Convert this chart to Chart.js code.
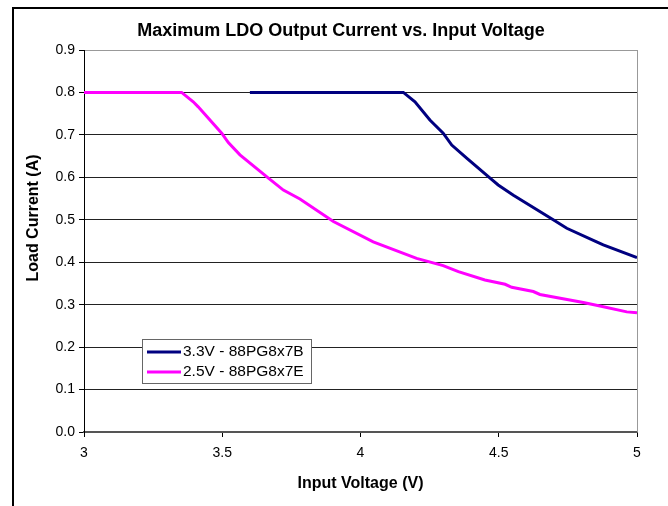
<!DOCTYPE html>
<html lang="en">
<head>
    <meta charset="UTF-8">
    <title>Maximum LDO Output Current vs. Input Voltage</title>
    <script src="https://cdn.jsdelivr.net/npm/chart.js@4/dist/chart.umd.min.js"></script>
    <style>
        html, body {
            margin: 0;
            padding: 0;
            background: #fff;
            overflow: hidden;
        }
        #wrap {
            position: relative;
            width: 668px;
            height: 506px;
        }
        #frame {
            position: absolute;
            left: 12px;
            top: 7px;
            width: 700px;
            height: 520px;
            border-top: 2px solid #000;
            border-left: 2px solid #000;
            pointer-events: none;
        }
        canvas {
            position: absolute;
            left: 0;
            top: 0;
        }
    </style>
</head>
<body>
<div id="wrap">
    <div id="frame"></div>
    <canvas id="chart" width="668" height="506"></canvas>
</div>

<script>
    // 3.3V - 88PG8x7B
    const ldo33Voltage = [3.60, 4.155, 4.197, 4.251, 4.299, 4.330, 4.384, 4.474, 4.498, 4.553, 4.697, 4.746, 4.854, 4.878, 5.00];
    const ldo33Current = [0.800, 0.800, 0.778, 0.735, 0.704, 0.676, 0.645, 0.595, 0.582, 0.558, 0.500, 0.480, 0.448, 0.441, 0.411];

    // 2.5V - 88PG8x7E
    const ldo25Voltage = [3.00, 3.353, 3.395, 3.413, 3.498, 3.522, 3.564, 3.667, 3.721, 3.781, 3.902, 4.046, 4.203, 4.299, 4.354, 4.450, 4.523, 4.547, 4.625, 4.649, 4.806, 4.866, 4.963, 5.00];
    const ldo25Current = [0.800, 0.800, 0.778, 0.766, 0.704, 0.682, 0.653, 0.598, 0.570, 0.549, 0.496, 0.448, 0.409, 0.392, 0.378, 0.358, 0.348, 0.341, 0.331, 0.324, 0.305, 0.297, 0.283, 0.281];

    const seriesLabels = ['3.3V - 88PG8x7B', '2.5V - 88PG8x7E'];
    const seriesColors = ['#000080', '#FF00FF'];

    const xTicks = [3, 3.5, 4, 4.5, 5];
    const yTicks = [0, 0.1, 0.2, 0.3, 0.4, 0.5, 0.6, 0.7, 0.8, 0.9];

    function toPoints(xs, ys) {
        return xs.map((x, i) => ({ x: x, y: ys[i] }));
    }

    const FONT = 'Arial, "Liberation Sans", sans-serif';

    // frame on the right of the plot area, y-axis title and the boxed legend
    const extras = {
        id: 'extras',
        afterDraw(chart) {
            const ctx = chart.ctx;
            const a = chart.chartArea;
            ctx.save();

            // right border of the plot area
            ctx.strokeStyle = '#999';
            ctx.lineWidth = 1;
            ctx.beginPath();
            ctx.moveTo(Math.round(a.right) + 0.5, a.top);
            ctx.lineTo(Math.round(a.right) + 0.5, a.bottom);
            ctx.stroke();

            // y axis title
            ctx.fillStyle = '#000';
            ctx.font = 'bold 16px ' + FONT;
            ctx.textAlign = 'center';
            ctx.textBaseline = 'middle';
            ctx.translate(34, 218);
            ctx.rotate(-Math.PI / 2);
            ctx.fillText('Load Current (A)', 0, 0);
            ctx.restore();

            // legend box
            ctx.save();
            const lx = 142, ly = 339, lw = 169, lh = 44;
            ctx.fillStyle = '#fff';
            ctx.fillRect(lx, ly, lw, lh);
            ctx.strokeStyle = '#666';
            ctx.lineWidth = 1;
            ctx.strokeRect(lx + 0.5, ly + 0.5, lw, lh);
            ctx.font = '15.5px ' + FONT;
            ctx.textAlign = 'left';
            ctx.textBaseline = 'middle';
            chart.data.datasets.forEach((ds, i) => {
                const yy = ly + 13 + i * 20;
                ctx.strokeStyle = ds.borderColor;
                ctx.lineWidth = 3;
                ctx.beginPath();
                ctx.moveTo(lx + 5, yy);
                ctx.lineTo(lx + 39, yy);
                ctx.stroke();
                ctx.fillStyle = '#000';
                ctx.fillText(ds.label, lx + 41, yy);
            });
            ctx.restore();
        }
    };

    const ctx = document.getElementById('chart').getContext('2d');
    const chart = new Chart(ctx, {
        type: 'scatter',
        data: {
            datasets: [
                {
                    label: seriesLabels[0],
                    data: toPoints(ldo33Voltage, ldo33Current),
                    borderColor: seriesColors[0],
                    backgroundColor: seriesColors[0],
                    showLine: true,
                    borderWidth: 3,
                    pointRadius: 0,
                    tension: 0
                },
                {
                    label: seriesLabels[1],
                    data: toPoints(ldo25Voltage, ldo25Current),
                    borderColor: seriesColors[1],
                    backgroundColor: seriesColors[1],
                    showLine: true,
                    borderWidth: 3,
                    pointRadius: 0,
                    tension: 0
                }
            ]
        },
        options: {
            responsive: false,
            animation: false,
            layout: {
                padding: { left: 45, right: 31, top: 0, bottom: 0 }
            },
            plugins: {
                legend: { display: false },
                tooltip: { enabled: false },
                title: {
                    display: true,
                    text: 'Maximum LDO Output Current vs. Input Voltage',
                    color: '#000',
                    font: { family: FONT, size: 18, weight: 'bold' },
                    padding: { top: 20, bottom: 8.4 }
                }
            },
            scales: {
                x: {
                    type: 'linear',
                    min: 3,
                    max: 5,
                    afterBuildTicks: (axis) => {
                        axis.ticks = xTicks.map(v => ({ value: v }));
                    },
                    afterFit: (axis) => { axis.height = 74; },
                    ticks: {
                        color: '#000',
                        font: { family: FONT, size: 14 },
                        padding: 8,
                        maxRotation: 0,
                        callback: (v) => String(v)
                    },
                    grid: {
                        drawOnChartArea: false,
                        tickLength: 5,
                        tickColor: '#000'
                    },
                    border: { color: '#555', width: 2 },
                    title: {
                        display: true,
                        text: 'Input Voltage (V)',
                        color: '#000',
                        font: { family: FONT, size: 16, weight: 'bold' },
                        padding: { top: 0, bottom: 13 }
                    }
                },
                y: {
                    min: 0,
                    max: 0.9,
                    afterBuildTicks: (axis) => {
                        axis.ticks = yTicks.map(v => ({ value: v }));
                    },
                    afterFit: (axis) => { axis.width = 39; },
                    ticks: {
                        color: '#000',
                        font: { family: FONT, size: 14 },
                        padding: 4,
                        callback: (v) => Number(v).toFixed(1)
                    },
                    grid: {
                        color: (c) => (c.tick && c.tick.value >= 0.85 ? '#999' : '#222'),
                        lineWidth: 1,
                        tickLength: 5,
                        tickColor: '#000'
                    },
                    border: { color: '#000', width: 1 }
                }
            }
        },
        plugins: [extras]
    });
</script>
</body>
</html>
